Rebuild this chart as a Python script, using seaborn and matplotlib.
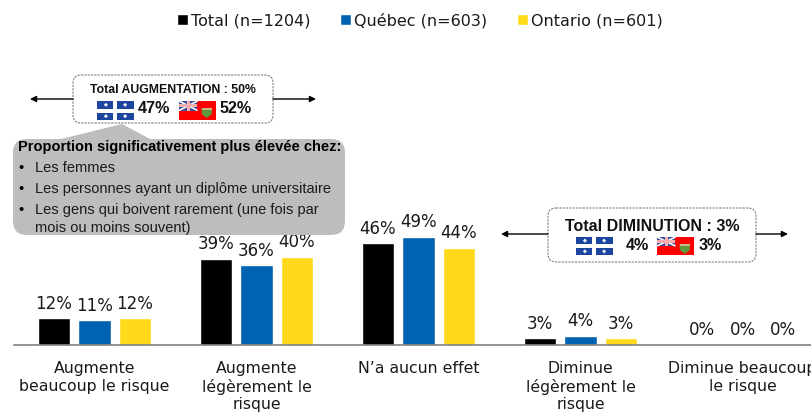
import pandas as pd
import matplotlib
matplotlib.use("Agg")
import matplotlib.pyplot as plt
from matplotlib.patches import FancyBboxPatch, Polygon, Rectangle
import seaborn as sns

# ==========================================
# Data
# ==========================================
CATEGORIES = ["Augmente\nbeaucoup le risque", "Augmente\nlégèrement le\nrisque", "N’a aucun effet",
              "Diminue\nlégèrement le\nrisque", "Diminue beaucoup\nle risque"]
SERIES = ["Total (n=1204)", "Québec (n=603)", "Ontario (n=601)"]
TOTAL = [12, 39, 46, 3, 0]
QUEBEC = [11, 36, 49, 4, 0]
ONTARIO = [12, 40, 44, 3, 0]
COLORS = ["#000000", "#0063B1", "#FFD91A"]

W, H = 812, 412
TEXT = "#1a1a1a"
ARIAL = "Liberation Sans"


def draw_quebec(ax, x, y, w=37, h=19):
    """Blue flag with a white cross and four small diamonds."""
    ax.add_patch(Rectangle((x, y), w, h, fc="#1C45A0", ec="none", zorder=4))
    ax.add_patch(Rectangle((x + w / 2 - 2, y), 4, h, fc="white", ec="none", zorder=4))
    ax.add_patch(Rectangle((x, y + h / 2 - 2), w, 4, fc="white", ec="none", zorder=4))
    for cx in (x + w * 0.24, x + w * 0.76):
        for cy in (y + h * 0.2, y + h * 0.8):
            ax.add_patch(Polygon([(cx - 2, cy), (cx, cy - 2), (cx + 2, cy), (cx, cy + 2)],
                                 fc="white", ec="none", zorder=4))


def draw_ontario(ax, x, y, w=37, h=19):
    """Red ensign with a small union jack corner and a green shield."""
    ax.add_patch(Rectangle((x, y), w, h, fc="#FF0000", ec="none", zorder=4))
    jw, jh = w * 0.5, h * 0.5
    ax.add_patch(Rectangle((x, y), jw, jh, fc="#3A4C9E", ec="none", zorder=4))
    ax.plot([x, x + jw], [y, y + jh], color="white", lw=1.2, solid_capstyle="butt", zorder=4)
    ax.plot([x, x + jw], [y + jh, y], color="white", lw=1.2, solid_capstyle="butt", zorder=4)
    ax.add_patch(Rectangle((x + jw / 2 - 1.5, y), 3, jh, fc="#F4B0B0", ec="none", zorder=4))
    ax.add_patch(Rectangle((x, y + jh / 2 - 1.5), jw, 3, fc="#F4B0B0", ec="none", zorder=4))
    sx = x + w * 0.75
    ax.add_patch(Polygon([(sx - 5, y + 7), (sx + 5, y + 7), (sx + 5, y + 13), (sx, y + 17), (sx - 5, y + 13)],
                         fc="#5F9A3C", ec="none", zorder=4))
    ax.add_patch(Rectangle((sx - 5, y + 7), 10, 2, fc="#C8B98A", ec="none", zorder=4))


def draw_total_box(ax, x0, x1, y0, y1, y_arrow, left_tip, right_tip):
    """Dashed white box with an arrow leaving each side."""
    ax.add_patch(FancyBboxPatch((x0, y0), x1 - x0, y1 - y0, boxstyle="round,pad=0,rounding_size=8",
                                fc="white", ec="#808080", lw=0.8, ls=(0, (2, 1)), zorder=3))
    for start, tip in ((x0, left_tip), (x1, right_tip)):
        ax.annotate("", xy=(tip, y_arrow), xytext=(start, y_arrow),
                    arrowprops=dict(arrowstyle="-|>", color="black", lw=1, shrinkA=0, shrinkB=0, mutation_scale=9))


df = pd.DataFrame({
    "categorie": CATEGORIES * 3,
    "serie": [s for s in SERIES for _ in CATEGORIES],
    "valeur": TOTAL + QUEBEC + ONTARIO,
})

sns.set_theme(style="white")
plt.rcParams["font.family"] = ["DejaVu Sans"]

fig = plt.figure(figsize=(W / 100, H / 100), dpi=100)
ax = fig.add_axes([13.5 / W, (H - 344.5) / H, (W - 13.5) / W, 220 / H])

sns.barplot(data=df, x="categorie", y="valeur", hue="serie", hue_order=SERIES, palette=COLORS,
            order=CATEGORIES, width=0.75, gap=0.2, saturation=1, ax=ax)
ax.set_xlim(-0.5, -0.5 + (W - 13.5) / 162)
ax.set_ylim(0, 100)
ax.set_xlabel("")
ax.set_ylabel("")
ax.set_yticks([])
ax.tick_params(axis="x", length=0, pad=12, labelsize=11.3, colors=TEXT)
for lab in ax.get_xticklabels():
    lab.set_linespacing(1.2)
sns.despine(ax=ax, left=True)
ax.spines["bottom"].set_color("#808080")
ax.spines["bottom"].set_linewidth(1.2)

for cont in ax.containers:
    ax.bar_label(cont, fmt="%d%%", padding=3.8, fontsize=12, color=TEXT)

sns.move_legend(ax, loc="upper left", bbox_to_anchor=(177 / W, (H - 13) / H), bbox_transform=fig.transFigure,
                ncol=3, frameon=False, title=None, fontsize=11.5, handlelength=0.68, handleheight=0.68,
                handletextpad=0.2, columnspacing=1.85, labelcolor=TEXT, borderpad=0, borderaxespad=0)

# overlay in pixel coordinates for the callouts
over = fig.add_axes([0, 0, 1, 1])
over.set_xlim(0, W)
over.set_ylim(H, 0)
over.axis("off")
over.patch.set_alpha(0)

# grey callout
over.add_patch(Polygon([(57, 140), (122, 124), (152, 140)], fc="#BDBDBD", ec="none"))
over.add_patch(FancyBboxPatch((13, 139), 332, 96, boxstyle="round,pad=0,rounding_size=14", fc="#BDBDBD", ec="none"))
over.text(18, 147, "Proportion significativement plus élevée chez:", family=ARIAL, weight="bold",
          fontsize=10.55, color="black", va="center")
for y in [168, 189, 210]:
    over.text(18, y, "•", family=ARIAL, fontsize=10.5, color="black", va="center")
over.text(35.5, 168, "Les femmes", family=ARIAL, fontsize=10.55, color=TEXT, va="center")
over.text(35.5, 189, "Les personnes ayant un diplôme universitaire", family=ARIAL, fontsize=10.55, color=TEXT, va="center")
over.text(35.5, 210, "Les gens qui boivent rarement (une fois par", family=ARIAL, fontsize=10.55, color=TEXT, va="center")
over.text(35.5, 228, "mois ou moins souvent)", family=ARIAL, fontsize=10.55, color=TEXT, va="center")

# total boxes
draw_total_box(over, 73, 273, 75, 123, 99, 30, 316)
over.text(173, 90, "Total AUGMENTATION : 50%", family=ARIAL, weight="bold", fontsize=8.8, color="#111111",
          ha="center", va="center", zorder=4)
draw_quebec(over, 97, 101)
over.text(138, 108, "47%", family=ARIAL, weight="bold", fontsize=11.6, color="#111111", va="center", zorder=4)
draw_ontario(over, 179, 101)
over.text(220, 108, "52%", family=ARIAL, weight="bold", fontsize=11.6, color="#111111", va="center", zorder=4)

draw_total_box(over, 548, 756, 208, 262, 234, 501, 788)
over.text(652, 226, "Total DIMINUTION : 3%", family=ARIAL, weight="bold", fontsize=11.5, color="#111111",
          ha="center", va="center", zorder=4)
draw_quebec(over, 576, 237, h=18)
over.text(626, 245, "4%", family=ARIAL, weight="bold", fontsize=11.6, color="#111111", va="center", zorder=4)
draw_ontario(over, 657, 237, h=18)
over.text(699, 245, "3%", family=ARIAL, weight="bold", fontsize=11.6, color="#111111", va="center", zorder=4)

fig.savefig("out.png", dpi=100)
